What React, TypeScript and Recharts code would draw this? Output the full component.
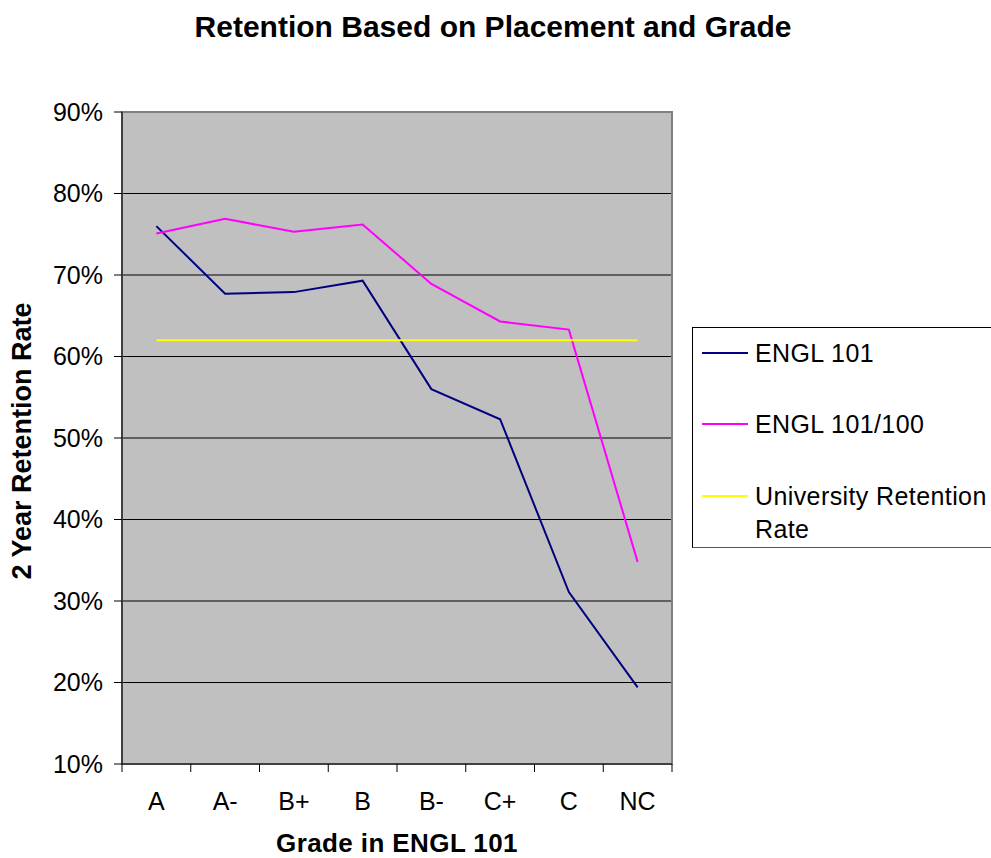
import React from 'react';
import { LineChart, Line, XAxis, YAxis, CartesianGrid, Legend, ReferenceArea } from 'recharts';

const grades = ['A', 'A-', 'B+', 'B', 'B-', 'C+', 'C', 'NC'];
const engl101 = [76.0, 67.7, 67.9, 69.3, 56.0, 52.3, 31.1, 19.4];
const engl101_100 = [75.1, 76.9, 75.3, 76.2, 68.9, 64.3, 63.3, 34.8];
const university = [62, 62, 62, 62, 62, 62, 62, 62];
const yTicks = [10, 20, 30, 40, 50, 60, 70, 80, 90];
const seriesNames = ['ENGL 101', 'ENGL 101/100', 'University Retention Rate'];

const data = grades.map((g, i) => ({
  x: i + 0.5,
  grade: g,
  a: engl101[i],
  b: engl101_100[i],
  u: university[i],
}));

const xTicks: number[] = [];
for (let i = 0; i <= grades.length * 2; i++) xTicks.push(i / 2);

const FONT = '"Liberation Sans", Arial, sans-serif';

const XTick = (props: any) => {
  const { x, y, payload } = props;
  const v = payload.value as number;
  if (Number.isInteger(v)) {
    return <line x1={x} x2={x} y1={y} y2={y + 8} stroke="#000" strokeWidth={1} />;
  }
  const label = grades[Math.floor(v)];
  return (
    <text x={x} y={y + 37} textAnchor="middle" dominantBaseline="central" fontSize={25} fill="#000" fontFamily={FONT}>
      {label}
    </text>
  );
};

const LegendBox = (props: any) => {
  const payload = props.payload || [];
  const tops = [25, 96, 168];
  return (
    <div style={{ position: 'relative', width: 320, height: 221, border: '1px solid #000', borderBottomColor: '#555', boxSizing: 'border-box', background: '#fff', fontFamily: FONT, fontSize: 25, letterSpacing: 0.4, color: '#000' }}>
      {payload.map((p: any, i: number) => (
        <div key={i}>
          <div style={{ position: 'absolute', left: 9, top: tops[i] - 1, width: 46, height: 2, background: p.color }} />
          <div style={{ position: 'absolute', left: 62, top: tops[i] - 16, width: 240, lineHeight: '33px', textAlign: 'left', whiteSpace: 'normal' }}>
            {p.value}
          </div>
        </div>
      ))}
    </div>
  );
};

export default function App() {
  return (
    <div style={{ position: 'absolute', left: 0, top: 0, width: 991, height: 858, overflow: 'hidden', background: '#fff', fontFamily: FONT }}>
      <div style={{ position: 'absolute', left: 0, top: 11, width: 986, textAlign: 'center', fontSize: 30, fontWeight: 'bold', lineHeight: '32px', color: '#000', fontFamily: FONT }}>
        Retention Based on Placement and Grade
      </div>
      <LineChart width={991} height={858} data={data} margin={{ top: 112, right: 319, bottom: 0, left: 0 }} style={{ fontFamily: FONT }}>
        <CartesianGrid vertical={false} horizontal={true} stroke="#000" strokeOpacity={1} fill="#C0C0C0" fillOpacity={1} />
        <ReferenceArea x1={0} x2={8} y1={10} y2={90} fill="none" stroke="#808080" strokeWidth={2} ifOverflow="visible" />
        <XAxis
          dataKey="x"
          type="number"
          domain={[0, 8]}
          ticks={xTicks}
          interval={0}
          height={94}
          tickSize={0}
          tickMargin={0}
          tickLine={false}
          axisLine={{ stroke: '#000', strokeWidth: 1 }}
          tick={<XTick />}
          allowDataOverflow
          label={{
            content: (p: any) => {
              const vb = p.viewBox || { x: 122, y: 764, width: 550, height: 94 };
              return (
                <text x={vb.x + vb.width / 2} y={843} textAnchor="middle" dominantBaseline="central" fontSize={26} letterSpacing={0.4} fontWeight="bold" fill="#000" fontFamily={FONT}>
                  Grade in ENGL 101
                </text>
              );
            },
          }}
        />
        <YAxis
          type="number"
          domain={[10, 90]}
          ticks={yTicks}
          interval={0}
          width={122}
          tickSize={8}
          tickMargin={11}
          tickFormatter={(v: number) => `${v}%`}
          tick={{ fontSize: 25, fill: '#000', fontFamily: FONT }}
          tickLine={{ stroke: '#000' }}
          axisLine={{ stroke: '#000', strokeWidth: 1 }}
          label={{
            content: (p: any) => {
              const vb = p.viewBox || { x: 0, y: 112, width: 122, height: 652 };
              const cy = vb.y + vb.height / 2 + 3;
              return (
                <text x={22} y={cy} transform={`rotate(-90, 22, ${cy})`} textAnchor="middle" dominantBaseline="central" fontSize={27} fontWeight="bold" fill="#000" fontFamily={FONT}>
                  2 Year Retention Rate
                </text>
              );
            },
          }}
        />
        <Legend
          layout="vertical"
          verticalAlign="middle"
          align="center"
          content={<LegendBox />}
          wrapperStyle={{ position: 'absolute', left: 692, top: 327, width: 320, height: 221 }}
        />
        <Line dataKey="a" name={seriesNames[0]} stroke="#000080" strokeWidth={2} dot={false} activeDot={false} type="linear" isAnimationActive={false} />
        <Line dataKey="b" name={seriesNames[1]} stroke="#FF00FF" strokeWidth={2} dot={false} activeDot={false} type="linear" isAnimationActive={false} />
        <Line dataKey="u" name={seriesNames[2]} stroke="#FFFF00" strokeWidth={2} dot={false} activeDot={false} type="linear" isAnimationActive={false} />
      </LineChart>
    </div>
  );
}
